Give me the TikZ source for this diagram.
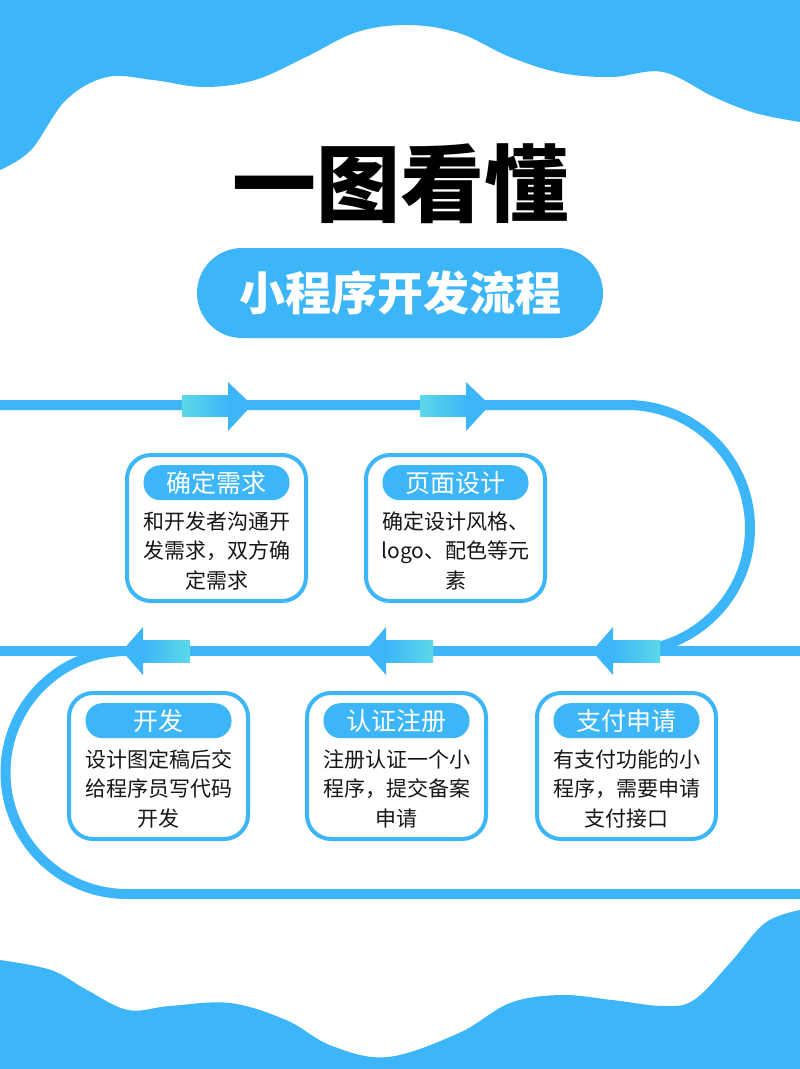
\documentclass[tikz,border=0pt]{standalone}
\usepackage{fontspec}
\setmainfont{Noto Sans CJK SC}
\usetikzlibrary{positioning}

\definecolor{flowblue}{RGB}{60,182,248}
\definecolor{flowcyan}{RGB}{92,216,232}
\definecolor{ink}{RGB}{22,22,22}

\tikzset{
  card/.style={draw=flowblue, line width=4pt, fill=white, rounded corners=24pt,
    minimum width=179pt, minimum height=146pt},
  tag/.style={fill=flowblue, rounded corners=17pt, minimum width=146pt,
    minimum height=35pt, inner sep=0pt, text=white, font=\fontsize{25}{25}\selectfont},
  body/.style={inner sep=0pt, align=center, text=ink, font=\fontsize{21}{29.5}\selectfont},
  track/.style={draw=flowblue, line width=10pt},
}

\begin{document}
\begin{tikzpicture}[x=1pt,y=1pt]
  \fill[white] (0,0) rectangle (800,-1069);
  \useasboundingbox (0,0) rectangle (800,-1069);

  % waves
  \fill[flowblue] (0,0) -- plot[smooth, tension=0.6] coordinates {(0,-170) (31,-150) (66,-100)
    (107,-77) (153,-80) (204,-87) (255,-80) (306,-57) (357,-32) (408,-25) (459,-33) (510,-57)
    (561,-73) (612,-77) (663,-72) (714,-97) (755,-113) (800,-122)} -- (800,0) -- cycle;
  \fill[flowblue] (0,-1069) -- plot[smooth, tension=0.6] coordinates {(0,-960) (51,-970) (87,-990)
    (128,-1010) (170,-1006) (230,-1003) (286,-1020) (332,-1046) (388,-1057) (459,-1033)
    (510,-1003) (561,-995) (612,-1000) (663,-1006) (694,-1000) (730,-963) (765,-923) (800,-910)}
    -- (800,-1069) -- cycle;

  % title
  \node (title) at (400,-184) {\fontsize{84}{84}\selectfont\bfseries 一图看懂};
  \node[fill=flowblue, rounded corners=45pt, minimum width=406pt, minimum height=90pt,
    text=white, font=\fontsize{46}{46}\selectfont\bfseries] (subtitle) at (400,-293) {小程序开发流程};

  % track
  \draw[track] (0,-405) -- (627,-405) arc[start angle=90, end angle=-90, radius=123pt];
  \draw[track] (0,-651) -- (800,-651);
  \draw[track] (127,-651) arc[start angle=90, end angle=270, radius=121.5pt] -- (800,-894);

  \foreach \x in {182,420} {
    \shade[left color=flowcyan, right color=flowblue] (\x,-395) rectangle ++(46,-21);
    \fill[flowblue] (\x+46,-382) -- (\x+70,-405) -- (\x+46,-431) -- cycle;
  }
  \foreach \x in {143,386,613} {
    \shade[left color=flowblue, right color=flowcyan] (\x,-640) rectangle ++(47,-22);
    \fill[flowblue] (\x,-627) -- (\x-21,-651) -- (\x,-675) -- cycle;
  }

  % steps
  \node[card] (need) at (216.5,-528) {};
  \node[tag, below=12pt of need.north] (need-t) {确定需求};
  \node[body, below=11pt of need-t] (need-b) {和开发者沟通开\\发需求，双方确\\定需求};

  \node[card] (design) at (455.5,-528) {};
  \node[tag, below=12pt of design.north] (design-t) {页面设计};
  \node[body, below=11pt of design-t] (design-b) {确定设计风格、\\logo、配色等元\\素};

  \node[card] (dev) at (158.5,-766) {};
  \node[tag, below=12pt of dev.north] (dev-t) {开发};
  \node[body, below=11pt of dev-t] (dev-b) {设计图定稿后交\\给程序员写代码\\开发};

  \node[card] (cert) at (396.5,-766) {};
  \node[tag, below=12pt of cert.north] (cert-t) {认证注册};
  \node[body, below=11pt of cert-t] (cert-b) {注册认证一个小\\程序，提交备案\\申请};

  \node[card] (pay) at (626.5,-766) {};
  \node[tag, below=12pt of pay.north] (pay-t) {支付申请};
  \node[body, below=11pt of pay-t] (pay-b) {有支付功能的小\\程序，需要申请\\支付接口};
\end{tikzpicture}
\end{document}
